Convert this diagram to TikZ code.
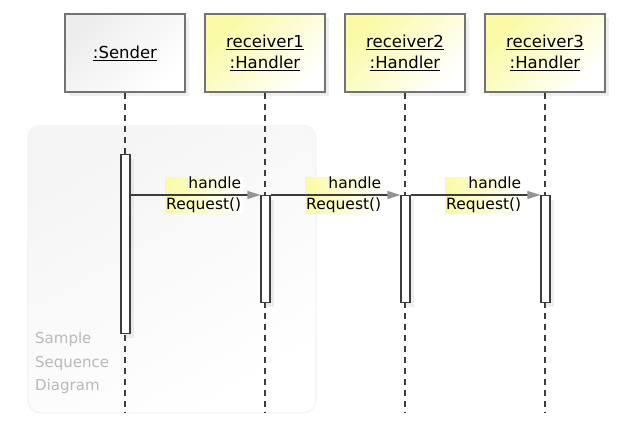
\documentclass[tikz,border=0pt]{standalone}
\usepackage{fontspec}
\setmainfont{DejaVu Sans}
\usetikzlibrary{arrows.meta, positioning, shadows}
\definecolor{headyellow}{RGB}{250,250,165}
\definecolor{linegray}{RGB}{60,60,60}

\begin{document}
\begin{tikzpicture}[
    x=1pt, y=-1pt,
    font=\fontsize{15.5}{21}\selectfont,
    softshadow/.style={drop shadow={opacity=0.13, shadow xshift=4pt, shadow yshift=-4pt}},
    head/.style={rectangle, draw=gray!90!black, line width=1.1pt,
                 minimum width=120pt, minimum height=78pt, align=center,
                 inner sep=0pt, softshadow, font=\fontsize{16.5}{21}\selectfont},
    sender/.style={head, top color=gray!14, bottom color=white, shading angle=45},
    handler/.style={head, top color=headyellow, bottom color=white, shading angle=45},
    actbar/.style={rectangle, draw=linegray, fill=white, line width=1.1pt,
                   minimum width=9pt, inner sep=0pt, anchor=north, softshadow},
    lifeline/.style={draw=linegray, line width=1.4pt, dash pattern=on 6pt off 5pt},
    msg/.style={draw=linegray, line width=1.2pt,
                -{Triangle[length=13pt, width=8pt, color=gray!85, fill=gray!85]}},
    lbl/.style={rectangle, align=right, inner xsep=1pt, inner ysep=0pt,
                left color=headyellow, right color=white},
    frame/.style={rectangle, rounded corners=12pt, draw=gray!8, line width=1.5pt,
                  top color=gray!8, bottom color=white, shading angle=30,
                  anchor=north west, minimum width=288pt, minimum height=287pt}
]
\useasboundingbox (0,0) rectangle (630,429);

%% ── Background frame ──
\node[frame] (F) at (27,125) {};
\node[anchor=south west, align=left, text=gray!55, inner sep=0pt,
      font=\fontsize{15}{23.5}\selectfont] (FL) at (35,394) {Sample\\Sequence\\Diagram};

%% ── Lifeline heads ──
\node[sender]  (S)  at (125,53) {\underline{:Sender}};
\node[handler] (R1) at (265,53) {\underline{receiver1}\\\underline{:Handler}};
\node[handler] (R2) at (405,53) {\underline{receiver2}\\\underline{:Handler}};
\node[handler] (R3) at (545,53) {\underline{receiver3}\\\underline{:Handler}};

%% ── Lifelines ──
\coordinate (SE)  at (125,412);
\coordinate (R1E) at (265,412);
\coordinate (R2E) at (405,412);
\coordinate (R3E) at (545,412);
\draw[lifeline] (S.south)  -- (SE);
\draw[lifeline] (R1.south) -- (R1E);
\draw[lifeline] (R2.south) -- (R2E);
\draw[lifeline] (R3.south) -- (R3E);

%% ── Activation bars ──
\node[actbar, minimum height=179pt] (SA)  at (125.5,154) {};
\node[actbar, minimum height=107pt] (R1A) at (265.5,195) {};
\node[actbar, minimum height=107pt] (R2A) at (405.5,195) {};
\node[actbar, minimum height=107pt] (R3A) at (545.5,195) {};

%% ── Message labels ──
\node[lbl, left=18pt of R1A.north west] (L1) {handle\\Request()};
\node[lbl, left=18pt of R2A.north west] (L2) {handle\\Request()};
\node[lbl, left=18pt of R3A.north west] (L3) {handle\\Request()};

%% ── Messages ──
\draw[msg] (SA.east |- R1A.north west) -- (R1A.north west);
\draw[msg] (R1A.north east) -- (R2A.north west);
\draw[msg] (R2A.north east) -- (R3A.north west);

\end{tikzpicture}
\end{document}
